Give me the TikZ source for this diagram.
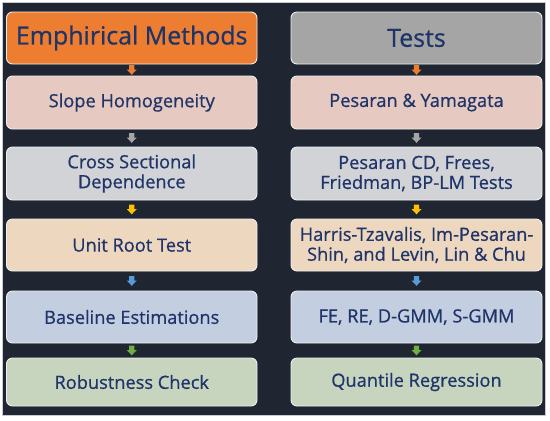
\documentclass[tikz,border=0pt]{standalone}
\usepackage{fontspec}
\setmainfont{Open Sans}[BoldFont={Open Sans},BoldFeatures={FakeBold=0.7}]
\usetikzlibrary{calc}
\definecolor{bgc}{HTML}{1F2632}
\definecolor{framec}{HTML}{C8CCD2}
\definecolor{txtc}{HTML}{1F3468}
\definecolor{hdorange}{HTML}{ED7D31}
\definecolor{hdgray}{HTML}{A5A5A5}
\definecolor{rpink}{HTML}{E6C9C0}
\definecolor{rgray}{HTML}{D1D3D6}
\definecolor{rbeige}{HTML}{EDD8BF}
\definecolor{rblue}{HTML}{C4CEE1}
\definecolor{rgreen}{HTML}{C7D5BF}
\definecolor{aorange}{HTML}{ED7D31}
\definecolor{agray}{HTML}{A5A5A5}
\definecolor{agold}{HTML}{FFC000}
\definecolor{ablue}{HTML}{5B9BD5}
\definecolor{agreen}{HTML}{70AD47}
\newcommand\downarr[3]{%
  \path ($(#1.south)!.5!(#2.north)$) coordinate (m-#1);
  \fill[#3] (m-#1) ++(-2.6,-4.8) -- ++(5.2,0) -- ++(0,4.3) -- ++(2.4,0)
     -- ++(-5,5.3) -- ++(-5,-5.3) -- ++(2.4,0) -- cycle;}
\begin{document}
\begin{tikzpicture}[x=1bp,y=-1bp,
  box/.style={draw=white!88!gray, line width=0.9bp, rounded corners=6bp,
    align=center, text=txtc, inner sep=0pt,
    font=\fontsize{18.3}{20}\selectfont\bfseries},
  lbox/.style={box, minimum width=250.5bp},
  rbox/.style={box, minimum width=251bp},
  hdr/.style={font=\fontsize{25}{28}\selectfont\bfseries}]
\useasboundingbox (0,0) rectangle (550,420);
\fill[white] (0,0) rectangle (550,420);
\draw[fill=bgc, draw=framec, line width=1bp] (2.5,2.5) rectangle (545.5,415);
% left column
\node[lbox, hdr, fill=hdorange, minimum height=52bp] (l0) at (131.75,38) {Emphirical Methods};
\node[lbox, fill=rpink, minimum height=53bp] (l1) at (131.75,102.5) {Slope Homogeneity};
\node[lbox, fill=rgray, minimum height=53bp] (l2) at (131.75,173.5) {Cross Sectional\\Dependence};
\node[lbox, fill=rbeige, minimum height=52bp] (l3) at (131.75,245) {Unit Root Test};
\node[lbox, fill=rblue, minimum height=52bp] (l4) at (131.75,317) {Baseline Estimations};
\node[lbox, fill=rgreen, minimum height=48bp] (l5) at (131.75,382) {Robustness Check};
% right column
\node[rbox, hdr, fill=hdgray, minimum height=52bp] (r0) at (416.5,38) {Tests};
\node[rbox, fill=rpink, minimum height=53bp] (r1) at (416.5,102.5) {Pesaran \& Yamagata};
\node[rbox, fill=rgray, minimum height=53bp] (r2) at (416.5,173.5) {Pesaran CD, Frees,\\Friedman, BP-LM Tests};
\node[rbox, fill=rbeige, minimum height=52bp] (r3) at (416.5,245) {Harris-Tzavalis, Im-Pesaran-\\Shin, and Levin, Lin \& Chu};
\node[rbox, fill=rblue, minimum height=52bp] (r4) at (416.5,317) {FE, RE, D-GMM, S-GMM};
\node[rbox, fill=rgreen, minimum height=48bp] (r5) at (416.5,382) {Quantile Regression};
% arrows
\downarr{l0}{l1}{aorange}
\downarr{l1}{l2}{agray}
\downarr{l2}{l3}{agold}
\downarr{l3}{l4}{ablue}
\downarr{l4}{l5}{agreen}
\downarr{r0}{r1}{aorange}
\downarr{r1}{r2}{agray}
\downarr{r2}{r3}{agold}
\downarr{r3}{r4}{ablue}
\downarr{r4}{r5}{agreen}
\end{tikzpicture}
\end{document}
